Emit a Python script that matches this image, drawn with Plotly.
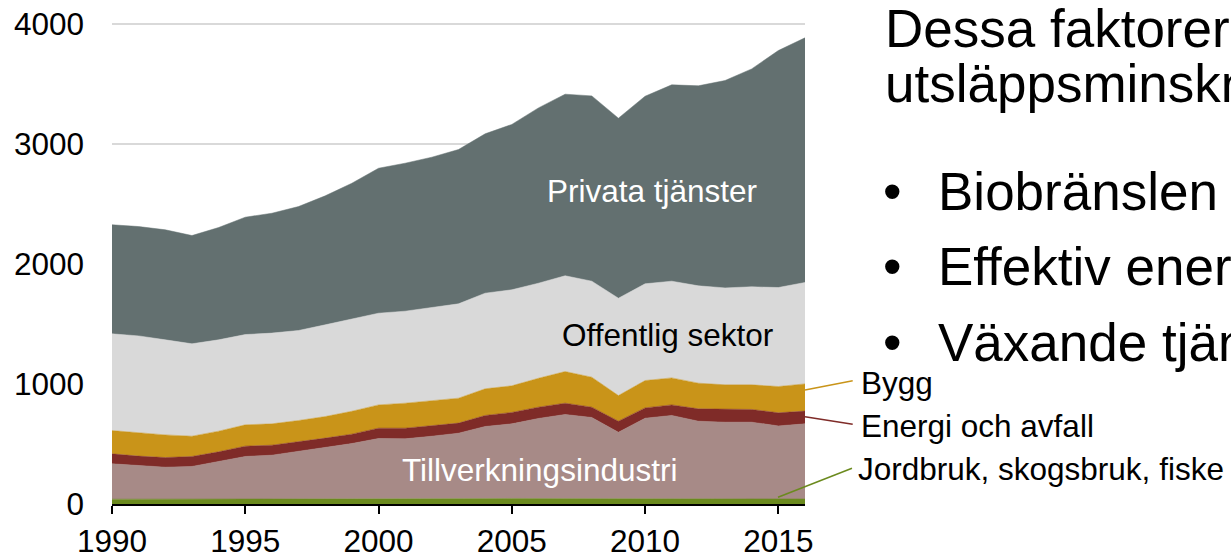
import plotly.graph_objects as go

# ---------------- data ----------------
years = list(range(1990, 2017))

jordbruk = [40, 40, 39, 39, 40, 40, 40, 40, 40, 40, 40, 40, 42, 44, 45, 46, 46, 48, 48, 47,
            44, 43, 42, 42, 42, 42, 42]
tillverkning = [295, 281, 268, 274, 314, 356, 367, 398, 431, 464, 506, 503, 523, 546, 601, 622,
                667, 698, 673, 551, 671, 695, 648, 640, 640, 609, 626]
energi = [83, 78, 80, 83, 81, 86, 83, 80, 78, 78, 86, 89, 89, 84, 92, 95, 94, 94, 86, 92,
          86, 88, 103, 106, 106, 109, 106]
bygg = [194, 194, 189, 169, 172, 178, 178, 178, 180, 191, 194, 208, 208, 208, 222, 222, 241,
        264, 250, 214, 228, 225, 214, 205, 205, 219, 227]
offentlig = [806, 808, 792, 770, 761, 752, 756, 750, 764, 770, 764, 767, 778, 786, 797, 800,
             792, 798, 800, 811, 806, 806, 811, 808, 817, 825, 845]
privata = [909, 911, 917, 902, 936, 978, 999, 1033, 1075, 1130, 1208, 1233, 1250, 1286, 1328,
           1378, 1461, 1513, 1544, 1500, 1563, 1636, 1667, 1728, 1816, 1975, 2039]

series_names = ["Jordbruk, skogsbruk, fiske", "Tillverkningsindustri", "Energi och avfall",
                "Bygg", "Offentlig sektor", "Privata tjänster"]
series_colors = ["#6b8a1e", "#a78a87", "#7f2b28", "#c99419", "#d9d9d9", "#637070"]

x_ticks = [1990, 1995, 2000, 2005, 2010, 2015]
y_ticks = [0, 1000, 2000, 3000, 4000]

headline = ["Dessa faktorer bakom", "utsläppsminskningen"]
bullets = ["Biobränslen", "Effektiv energianvändning", "Växande tjänstesektor"]

# ---------------- figure ----------------
FONT = "Liberation Sans, Arial, sans-serif"
W, H = 1231, 553
L, R, T, B = 112, 426, 14, 49
PW, PH = W - L - R, H - T - B
PX_PER_UNIT = 0.12            # 1000 units = 120 px in the reference
Y_TOP = PH / PX_PER_UNIT      # headroom above 4000 so the 4000 gridline is drawn
FS = 31.5      # chart text size
BIG = 53       # slide text size


def px(xp):
    return (xp - L) / PW


def py(yp):
    return (H - B - yp) / PH


fig = go.Figure()
for vals, name, col in zip([jordbruk, tillverkning, energi, bygg, offentlig, privata],
                           series_names, series_colors):
    fig.add_trace(go.Scatter(
        x=years, y=vals, name=name, stackgroup="one", mode="lines",
        line=dict(width=0.5, color=col), fillcolor=col, hoverinfo="skip"))

fig.update_layout(
    width=W, height=H, margin=dict(l=L, r=R, t=T, b=B, pad=0, autoexpand=False),
    paper_bgcolor="white", plot_bgcolor="white", showlegend=False,
    font=dict(family=FONT, size=FS, color="black"),
)
fig.update_xaxes(range=[1990, 2016], tickvals=x_ticks, ticks="outside", ticklen=8,
                 tickwidth=2, tickcolor="black", showline=True, linecolor="black",
                 linewidth=2, showgrid=False, zeroline=False, automargin=False,
                 tickfont=dict(family=FONT, size=FS, color="black"))
fig.update_yaxes(range=[0, Y_TOP], tickvals=y_ticks, showgrid=True, gridcolor="#d9d9d9",
                 gridwidth=1.5, zeroline=False, showline=False, ticks="",
                 ticklabelstandoff=27, automargin=False,
                 tickfont=dict(family=FONT, size=FS, color="black"))

ann = []
# in-chart labels
ann.append(dict(text="Privata tjänster", x=px(651.7), y=py(191), font=dict(color="white")))
ann.append(dict(text="Offentlig sektor", x=px(667), y=py(334.5), font=dict(color="black")))
ann.append(dict(text="Tillverkningsindustri", x=px(539.5), y=py(469.5), font=dict(color="white")))
for a in ann:
    a.update(xref="paper", yref="paper", showarrow=False, xanchor="center", yanchor="middle")
    a["font"].update(family=FONT, size=FS)

# callout labels
call_pos = [("Bygg", 859, 382.6), ("Energi och avfall", 859, 426),
            ("Jordbruk, skogsbruk, fiske", 855.7, 469.3)]
for txt, xp, yp in call_pos:
    ann.append(dict(text=txt, x=px(xp), y=py(yp), xref="paper", yref="paper", showarrow=False,
                    xanchor="left", yanchor="middle", font=dict(family=FONT, size=FS, color="black")))

# headline + bullets
for txt, yp in zip(headline, [28.5, 83.5]):
    ann.append(dict(text=txt, x=px(883), y=py(yp), xref="paper", yref="paper", showarrow=False,
                    xanchor="left", yanchor="middle", font=dict(family=FONT, size=BIG, color="black")))
for txt, yp in zip(bullets, [191, 266.5, 342.5]):
    ann.append(dict(text="•", x=px(892.7), y=py(yp), xref="paper", yref="paper", showarrow=False,
                    xanchor="center", yanchor="middle", font=dict(family=FONT, size=BIG, color="black")))
    ann.append(dict(text=txt, x=px(935.5), y=py(yp), xref="paper", yref="paper", showarrow=False,
                    xanchor="left", yanchor="middle", font=dict(family=FONT, size=BIG, color="black")))
fig.update_layout(annotations=ann)

# callout leader lines
lines = [((805, 390), (852.7, 380.7), "#c99419"),
         ((805, 416.7), (852.7, 424.3), "#7f2b28"),
         ((778, 497.3), (852, 468.3), "#6b8a1e")]
for (x0, y0), (x1, y1), col in lines:
    fig.add_shape(type="line", xref="paper", yref="paper", x0=px(x0), y0=py(y0),
                  x1=px(x1), y1=py(y1), line=dict(color=col, width=1.5))

fig.write_html("out.html", config={"displayModeBar": False},
               post_script="document.body.style.margin='0px';document.body.style.overflow='hidden';")
